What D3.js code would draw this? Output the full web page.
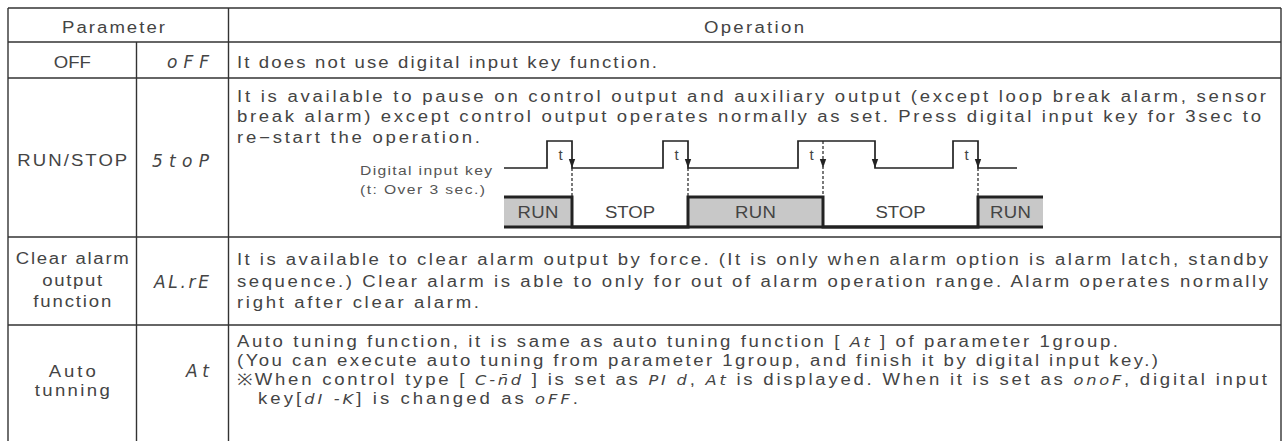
<!DOCTYPE html>
<html><head><meta charset="utf-8">
<script src="https://cdn.jsdelivr.net/npm/d3@7"></script>
<style>html,body{margin:0;padding:0;background:#fff;} svg{display:block}</style>
</head><body><svg id="c" width="1284" height="441"></svg>
<script>
// ---------------- data ----------------
const headerLabels = ["Parameter", "Operation"];
const paramNames = [["OFF"], ["RUN/STOP"], ["Clear alarm", "output", "function"], ["Auto", "tunning"]];
const paramCodes = ["oFF", "5toP", "AL.rE", "At"];
const operationLines = [
  ["It does not use digital input key function."],
  ["It is available to pause on control output and auxiliary output (except loop break alarm, sensor",
   "break alarm) except control output operates normally as set. Press digital input key for 3sec to",
   "re\u2212start the operation."],
  ["It is available to clear alarm output by force. (It is only when alarm option is alarm latch, standby",
   "sequence.) Clear alarm is able to only for out of alarm operation range. Alarm operates normally",
   "right after clear alarm."],
  ["Auto tuning function, it is same as auto tuning function [ {At} ] of parameter 1group.",
   "(You can execute auto tuning from parameter 1group, and finish it by digital input key.)",
   "\u203BWhen control type [ {C-n\u0304d} ] is set as {PI d}, {At} is displayed. When it is set as {onoF}, digital input",
   "key[{dI -K}] is changed as {oFF}."]
];
const keyLabel = ["Digital input key", "(t: Over 3 sec.)"];
// [press, toggle after 3 s, release]
const keyPresses = [[4.3, 6.8, 6.8], [15.9, 18.4, 18.4], [29.4, 31.9, 37.1], [44.9, 47.4, 47.4]];
const runStates = [["RUN", 0, 6.8], ["STOP", 6.8, 18.4], ["RUN", 18.4, 31.9], ["STOP", 31.9, 47.4], ["RUN", 47.4, 53.9]];
const timeSpan = [0, 53.9];
const keyLineEnd = 51.3;
const pressLabel = "t";

// ---------------- layout ----------------
const colX = [8, 136.5, 228.5, 1281];
const rowY = [8, 42, 78, 237, 325, 441];
const headerBaseline = 33;
const headerPos = [{x: 62, w: 103}, {x: 704, w: 100}];
const nameBase = [[68], [166], [264, 286, 307], [377, 396]];
const nameW = [[35], [110], [113, 60, 78], [47, 75]];
const codeBase = [68, 167, 288, 377];
const codeW = [42, 57, 55, 23];
const codeRight = 209;
const opBase = [[68], [102, 122, 143], [265, 287, 308], [347, 366, 385, 404]];
const opW = [[420], [1029, 1024, 243], [1031, 1031, 242], [881, 921, 1030, 320]];
const opX = [[237], [237, 237, 237], [237, 237, 237], [237, 237, 237, 258]];

const TXT = "#444", LINE = "#333";
const FONT = "'Liberation Sans', Arial, sans-serif";
const FS = 16;
const SX = 1.16;           // horizontal glyph widening
const SEG = "'DejaVu Sans', sans-serif";

const svg = d3.select("#c");
const toFit = [];

function wtext(g, t, x, y, w, anchor, size, fill) {
  const el = g.append("text")
    .attr("transform", `translate(${x},${y}) scale(${SX},1)`)
    .attr("text-anchor", anchor || "start")
    .attr("font-family", FONT).attr("font-size", size || FS).attr("fill", fill || TXT)
    .text(t);
  toFit.push([el, w / SX]);
  return el;
}

// ---- table grid ----
const grid = svg.append("g").attr("stroke", LINE).attr("stroke-width", 1.4).attr("fill", "none");
rowY.slice(0, 5).forEach(y => grid.append("line").attr("x1", colX[0]).attr("x2", colX[3]).attr("y1", y).attr("y2", y));
grid.append("line").attr("x1", colX[0]).attr("x2", colX[0]).attr("y1", rowY[0]).attr("y2", 441);
grid.append("line").attr("x1", colX[3]).attr("x2", colX[3]).attr("y1", rowY[0]).attr("y2", 441);
grid.append("line").attr("x1", colX[2]).attr("x2", colX[2]).attr("y1", rowY[0]).attr("y2", 441);
grid.append("line").attr("x1", colX[1]).attr("x2", colX[1]).attr("y1", rowY[1]).attr("y2", 441);

const tg = svg.append("g");

headerLabels.forEach((t, i) => wtext(tg, t, headerPos[i].x, headerBaseline, headerPos[i].w));

const c1 = (colX[0] + colX[1]) / 2;
paramNames.forEach((lines, r) => {
  lines.forEach((t, j) => wtext(tg, t, c1, nameBase[r][j], nameW[r][j], "middle"));
});

paramCodes.forEach((t, r) => {
  tg.append("text").attr("x", codeRight).attr("y", codeBase[r]).attr("text-anchor", "end")
    .attr("font-family", SEG).attr("font-style", "italic").attr("font-weight", 200).attr("font-size", 17)
    .attr("fill", TXT).attr("textLength", codeW[r]).attr("lengthAdjust", "spacing").text(t);
});

operationLines.forEach((lines, r) => {
  lines.forEach((t, j) => {
    const el = wtext(tg, "", opX[r][j], opBase[r][j], opW[r][j]);
    const parts = t.split(/(\{[^}]*\})/).filter(p => p.length);
    parts.forEach(p => {
      if (p[0] === "{") {
        el.append("tspan").attr("font-family", SEG).attr("font-style", "italic").attr("font-weight", 200)
          .attr("font-size", 14).text(p.slice(1, -1));
      } else {
        el.append("tspan").text(p);
      }
    });
  });
});

// ---- timing diagram ----
const x = d3.scaleLinear().domain(timeSpan).range([504, 1043]);
const yKey = d3.scaleLinear().domain([0, 1]).range([168, 141]);
const yBar = d3.scaleLinear().domain([0, 1]).range([227, 197]);
const dg = svg.append("g");

wtext(dg, keyLabel[0], 492, 175, 132, "end", 13.5, "#555");
wtext(dg, keyLabel[1], 485, 194, 125, "end", 13.5, "#555");

const keyPts = [[timeSpan[0], 0]];
keyPresses.forEach(([p0, p1, p2]) => { keyPts.push([p0, 0], [p0, 1], [p2, 1], [p2, 0]); });
keyPts.push([keyLineEnd, 0]);
const lineGen = d3.line().x(d => x(d[0]));
dg.append("path").attr("d", lineGen.y(d => yKey(d[1]))(keyPts))
  .attr("fill", "none").attr("stroke", "#222").attr("stroke-width", 1.7);

function arrow(t) {
  const xx = x(t), y0 = yKey(0);
  dg.append("path").attr("d", `M${xx - 3.2},${y0 - 9} L${xx + 3.2},${y0 - 9} L${xx},${y0} Z`).attr("fill", "#222");
}
keyPresses.forEach(([p0, p1, p2]) => {
  const yStart = p1 < p2 ? yKey(1) : yKey(0);
  dg.append("line").attr("x1", x(p1)).attr("x2", x(p1)).attr("y1", yStart).attr("y2", yBar(1))
    .attr("stroke", "#222").attr("stroke-width", 1.2).attr("stroke-dasharray", "3,2");
  arrow(p1);
  if (p2 > p1) arrow(p2);
  dg.append("text").attr("x", (x(p0) + x(p1)) / 2 + 1).attr("y", 160).attr("text-anchor", "middle")
    .attr("font-family", FONT).attr("font-size", 15).attr("fill", TXT).text(pressLabel);
});

dg.selectAll("rect.run").data(runStates.filter(d => d[0] === "RUN")).enter().append("rect")
  .attr("x", d => x(d[1])).attr("width", d => x(d[2]) - x(d[1]))
  .attr("y", yBar(1)).attr("height", yBar(0) - yBar(1)).attr("fill", "#c8c8c8");
const barPts = [];
runStates.forEach(([s, a, b]) => { const lv = s === "RUN" ? 1 : 0; barPts.push([a, lv], [b, lv]); });
dg.append("path").attr("d", lineGen.y(d => yBar(d[1]))(barPts))
  .attr("fill", "none").attr("stroke", "#222").attr("stroke-width", 3);
dg.append("line").attr("x1", x(timeSpan[0])).attr("x2", x(timeSpan[1])).attr("y1", yBar(0)).attr("y2", yBar(0))
  .attr("stroke", "#222").attr("stroke-width", 3);
runStates.forEach(d => wtext(dg, d[0], (x(d[1]) + x(d[2])) / 2, 218, d[0] === "RUN" ? 41 : 50, "middle"));

// stretch letter spacing only where the natural width is shorter than the target
toFit.forEach(([el, target]) => {
  const nat = el.node().getComputedTextLength();
  if (nat < target) el.attr("textLength", target).attr("lengthAdjust", "spacing");
});
</script></body></html>
